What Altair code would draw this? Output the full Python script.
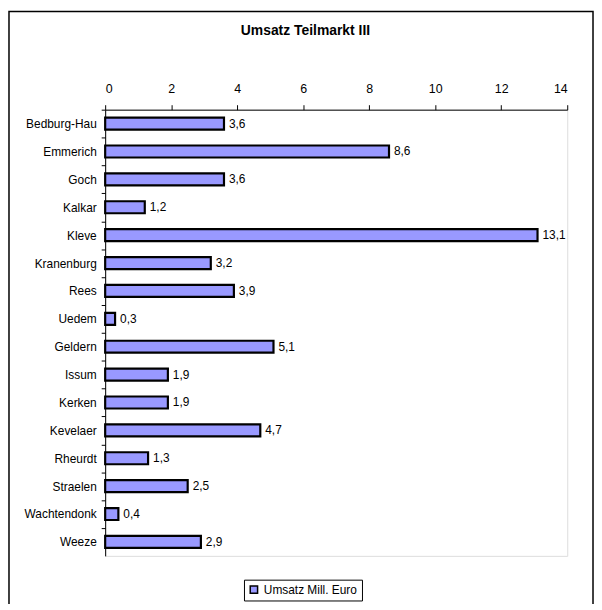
import altair as alt
import pandas as pd

cities = ["Bedburg-Hau", "Emmerich", "Goch", "Kalkar", "Kleve", "Kranenburg", "Rees",
          "Uedem", "Geldern", "Issum", "Kerken", "Kevelaer", "Rheurdt", "Straelen",
          "Wachtendonk", "Weeze"]
values = [3.6, 8.6, 3.6, 1.2, 13.1, 3.2, 3.9, 0.3, 5.1, 1.9, 1.9, 4.7, 1.3, 2.5, 0.4, 2.9]
series_name = "Umsatz Mill. Euro"
title_text = "Umsatz Teilmarkt III"
x_ticks = [0, 2, 4, 6, 8, 10, 12, 14]

df = pd.DataFrame({"Stadt": cities, "Umsatz": values, "Serie": [series_name] * len(cities)})

FONT = "Liberation Sans"
W, H = 466, 450

base = alt.Chart(df)

bars = base.mark_bar(stroke="black", strokeWidth=2.2, opacity=1).encode(
    y=alt.Y("Stadt:N", sort=cities,
            scale=alt.Scale(paddingInner=0.57, paddingOuter=0.285),
            axis=alt.Axis(title=None, domainColor="black", domainWidth=1,
                          tickColor="black", tickSize=4, tickOffset=-14, labelOffset=14,
                          labelPadding=5, labelFontSize=12, labelColor="black",
                          labelFont=FONT)),
    x=alt.X("Umsatz:Q",
            scale=alt.Scale(domain=[0, 14], nice=False),
            axis=alt.Axis(orient="top", title=None, values=x_ticks, grid=False,
                          domainColor="black", domainWidth=1, tickColor="black",
                          tickSize=5, labelPadding=9, labelFontSize=12.5,
                          labelColor="black", labelFont=FONT)),
    color=alt.Color("Serie:N", scale=alt.Scale(range=["#9999FF"]),
                    legend=alt.Legend(title=None, orient="none", legendX=140, legendY=474,
                                      strokeColor="black", padding=4, cornerRadius=0,
                                      symbolType="square", symbolSize=55,
                                      symbolStrokeColor="black", symbolStrokeWidth=1.5,
                                      symbolOpacity=1, labelFontSize=12, labelFont=FONT,
                                      labelColor="black", fillColor="white")),
)

labels = base.transform_calculate(
    lab="replace(format(datum.Umsatz, '.1f'), '.', ',')"
).mark_text(align="left", baseline="middle", dx=5, fontSize=12, font=FONT,
            color="black").encode(
    y=alt.Y("Stadt:N", sort=cities),
    x=alt.X("Umsatz:Q"),
    text="lab:N",
)

single = alt.Data(values=[{"k": 1}])

frame = alt.Chart(single).mark_rect(fillOpacity=0, stroke="black", strokeWidth=1.5).encode(
    x=alt.value(-97), x2=alt.value(492), y=alt.value(-99), y2=alt.value(560)
)

title = alt.Chart(single).mark_text(text=title_text, fontSize=14, fontWeight="bold",
                                    font=FONT, color="black", align="center",
                                    baseline="middle").encode(
    x=alt.value(202), y=alt.value(-79)
)

chart = alt.layer(frame, bars, labels, title).properties(
    width=W, height=H,
    autosize=alt.AutoSizeParams(type="none"),
    padding={"left": 98, "top": 100, "right": 27, "bottom": 46},
).configure_view(
    stroke="#808080", strokeWidth=2
).configure(background="white")

chart.save("out.html", embed_options={"renderer": "svg", "actions": False})
